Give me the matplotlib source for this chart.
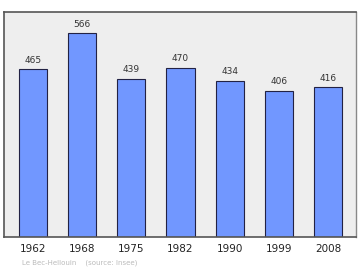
import matplotlib.pyplot as plt

years = ['1962', '1968', '1975', '1982', '1990', '1999', '2008']
population = [465, 566, 439, 470, 434, 406, 416]

fig = plt.figure(figsize=(3.6, 2.7), dpi=100)
ax = fig.add_axes([4 / 360, 33 / 270, 352 / 360, 225 / 270])
ax.set_facecolor('#eeeeee')

x = range(len(years))
bars = ax.bar(x, population, width=0.57, color='#7197ff',
              edgecolor='#222244', linewidth=0.8, zorder=2)

for xi, v in zip(x, population):
    ax.text(xi, v + 12, str(v), ha='center', va='bottom',
            fontsize=6.5, color='#333333')

ax.set_xlim(-0.59, 6.57)
ax.set_ylim(0, 624)
ax.set_yticks([])
ax.set_xticks(list(x))
ax.set_xticklabels(years, fontsize=7.5, color='#222222')
ax.tick_params(axis='x', length=0, pad=5)

for side in ['left', 'top', 'bottom']:
    ax.spines[side].set_color('#555555')
    ax.spines[side].set_linewidth(1.2)
ax.spines['right'].set_color('#888888')
ax.spines['right'].set_linewidth(1.0)

fig.text(22 / 360, 1 - 263 / 270, 'Le Bec-Hellouin    (source: Insee)',
         fontsize=5, color='#bbbbbb', va='center')

fig.savefig('out.png', dpi=100)
